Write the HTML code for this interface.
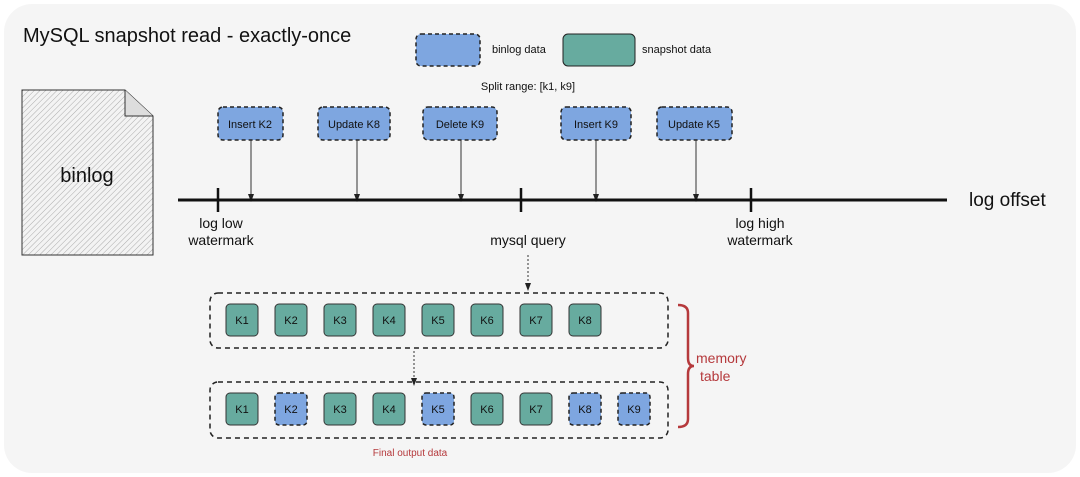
<!DOCTYPE html>
<html><head><meta charset="utf-8"><style>
html,body{margin:0;padding:0;background:#fff;}
svg{display:block;font-family:"Liberation Sans",sans-serif;}
</style></head><body>
<svg width="1080" height="477" viewBox="0 0 1080 477" xmlns="http://www.w3.org/2000/svg">
<defs>
<pattern id="h" width="4" height="4" patternUnits="userSpaceOnUse" patternTransform="rotate(45)">
<rect width="4" height="4" fill="#f3f3f3"/><line x1="0" y1="0" x2="0" y2="4" stroke="#999" stroke-width="0.8"/></pattern>
<marker id="a" markerWidth="8" markerHeight="8" refX="4" refY="4" orient="auto" markerUnits="userSpaceOnUse"><path d="M0,1 L8,4 L0,7 Z" fill="#222"/></marker>
</defs>
<rect x="4" y="4" width="1072" height="469" rx="28" fill="#f5f5f5"/>
<text x="23" y="42" font-size="20" fill="#111">MySQL snapshot read - exactly-once</text>
<rect x="416" y="34" width="64" height="32" rx="5" fill="#7ea6e0" stroke="#222" stroke-width="1.5" stroke-dasharray="4 3"/>
<text x="492" y="53" font-size="11" fill="#111">binlog data</text>
<rect x="563" y="34" width="72" height="32" rx="5" fill="#67ab9f" stroke="#222" stroke-width="1"/>
<text x="642" y="53" font-size="11" fill="#111">snapshot data</text>
<text x="528" y="90" font-size="11" fill="#111" text-anchor="middle">Split range: [k1, k9]</text>
<path d="M22,90 L125,90 L153,116 L153,255 L22,255 Z" fill="url(#h)" stroke="#333" stroke-width="1"/>
<path d="M125,90 L125,116 L153,116" fill="#ddd" stroke="#333" stroke-width="1"/>
<text x="87" y="182" font-size="20" fill="#111" text-anchor="middle">binlog</text>
<g font-size="11" fill="#111" text-anchor="middle">
<rect x="218" y="107" width="65" height="33" rx="5" fill="#7ea6e0" stroke="#222" stroke-width="1.5" stroke-dasharray="4 3"/><text x="250" y="128">Insert K2</text>
<rect x="318" y="107" width="72" height="33" rx="5" fill="#7ea6e0" stroke="#222" stroke-width="1.5" stroke-dasharray="4 3"/><text x="354" y="128">Update K8</text>
<rect x="423" y="107" width="74" height="33" rx="5" fill="#7ea6e0" stroke="#222" stroke-width="1.5" stroke-dasharray="4 3"/><text x="460" y="128">Delete K9</text>
<rect x="561" y="107" width="70" height="33" rx="5" fill="#7ea6e0" stroke="#222" stroke-width="1.5" stroke-dasharray="4 3"/><text x="596" y="128">Insert K9</text>
<rect x="657" y="107" width="75" height="33" rx="5" fill="#7ea6e0" stroke="#222" stroke-width="1.5" stroke-dasharray="4 3"/><text x="694" y="128">Update K5</text>
</g>
<g stroke="#333" stroke-width="1" marker-end="url(#a)">
<line x1="251" y1="140" x2="251" y2="198"/><line x1="357" y1="140" x2="357" y2="198"/><line x1="461" y1="140" x2="461" y2="198"/><line x1="596" y1="140" x2="596" y2="198"/><line x1="696" y1="140" x2="696" y2="198"/>
</g>
<line x1="178" y1="200" x2="947" y2="200" stroke="#111" stroke-width="3"/>
<g stroke="#111" stroke-width="2.5"><line x1="218" y1="188" x2="218" y2="212"/><line x1="521" y1="188" x2="521" y2="212"/><line x1="751" y1="188" x2="751" y2="212"/></g>
<g font-size="14" fill="#111" text-anchor="middle">
<text x="221" y="228">log low</text><text x="221" y="245">watermark</text>
<text x="528" y="245">mysql query</text>
<text x="760" y="228">log high</text><text x="760" y="245">watermark</text>
</g>
<text x="969" y="206" font-size="19" fill="#111">log offset</text>
<g stroke="#333" stroke-width="1" stroke-dasharray="2 2" marker-end="url(#a)">
<line x1="528" y1="255" x2="528" y2="287"/><line x1="414" y1="351" x2="414" y2="382"/></g>
<rect x="210" y="293" width="458" height="55" rx="8" fill="none" stroke="#222" stroke-width="1.5" stroke-dasharray="5 4"/>
<rect x="210" y="382" width="458" height="56" rx="8" fill="none" stroke="#222" stroke-width="1.5" stroke-dasharray="5 4"/>
<g font-size="11" fill="#111" text-anchor="middle">
<g fill="#67ab9f" stroke="#333" stroke-width="1">
<rect x="226" y="304" width="32" height="32" rx="4"/><rect x="275" y="304" width="32" height="32" rx="4"/><rect x="324" y="304" width="32" height="32" rx="4"/><rect x="373" y="304" width="32" height="32" rx="4"/><rect x="422" y="304" width="32" height="32" rx="4"/><rect x="471" y="304" width="32" height="32" rx="4"/><rect x="520" y="304" width="32" height="32" rx="4"/><rect x="569" y="304" width="32" height="32" rx="4"/>
<rect x="226" y="393" width="32" height="32" rx="4"/><rect x="324" y="393" width="32" height="32" rx="4"/><rect x="373" y="393" width="32" height="32" rx="4"/><rect x="471" y="393" width="32" height="32" rx="4"/><rect x="520" y="393" width="32" height="32" rx="4"/>
</g>
<g fill="#7ea6e0" stroke="#222" stroke-width="1.5" stroke-dasharray="4 3">
<rect x="275" y="393" width="32" height="32" rx="4"/><rect x="422" y="393" width="32" height="32" rx="4"/><rect x="569" y="393" width="32" height="32" rx="4"/><rect x="618" y="393" width="32" height="32" rx="4"/>
</g>
<text x="242" y="324">K1</text><text x="291" y="324">K2</text><text x="340" y="324">K3</text><text x="389" y="324">K4</text><text x="438" y="324">K5</text><text x="487" y="324">K6</text><text x="536" y="324">K7</text><text x="585" y="324">K8</text>
<text x="242" y="413">K1</text><text x="291" y="413">K2</text><text x="340" y="413">K3</text><text x="389" y="413">K4</text><text x="438" y="413">K5</text><text x="487" y="413">K6</text><text x="536" y="413">K7</text><text x="585" y="413">K8</text><text x="634" y="413">K9</text>
</g>
<path d="M678,305 Q688,305 688,313 L688,358 Q688,366 694,366 Q688,366 688,374 L688,419 Q688,427 678,427" fill="none" stroke="#b5393c" stroke-width="2.5"/>
<text x="696" y="363" font-size="14" fill="#b5393c">memory</text>
<text x="700" y="381" font-size="14" fill="#b5393c">table</text>
<text x="410" y="456" font-size="10" fill="#b5393c" text-anchor="middle">Final output data</text>
</svg>
</body></html>
